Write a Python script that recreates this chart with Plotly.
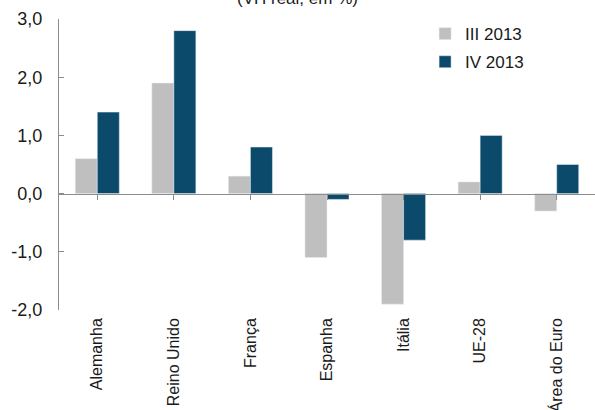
import plotly.graph_objects as go

# Crescimento do PIB (VH real, em %)
paises = ["Alemanha", "Reino Unido", "França", "Espanha", "Itália", "UE-28", "Área do Euro"]
iii_2013 = [0.6, 1.9, 0.3, -1.1, -1.9, 0.2, -0.3]
iv_2013 = [1.4, 2.8, 0.8, -0.1, -0.8, 1.0, 0.5]
y_ticks = [-2, -1, 0, 1, 2, 3]

FONTE = "Arial, Liberation Sans, sans-serif"
CINZA = "#bfbfbf"
AZUL = "#0c4a6b"
EIXO = "#8c8c8c"

pos = list(range(len(paises)))
# rótulos com vírgula e hífen simples, como no original
y_textos = [f"{v:.1f}".replace(".", ",") for v in y_ticks]

fig = go.Figure()
fig.add_trace(go.Bar(x=pos, y=iii_2013, name="III 2013", marker_color=CINZA,
                     legendgroup="a"))
fig.add_trace(go.Bar(x=pos, y=iv_2013, name="IV 2013", marker_color=AZUL,
                     legendgroup="b"))
# traço invisível só para o eixo dos rótulos aparecer
fig.add_trace(go.Scatter(x=pos, y=[0] * len(pos), xaxis="x2", mode="markers",
                         marker=dict(opacity=0), showlegend=False, hoverinfo="skip"))

# título cortado no topo, como na imagem original
fig.add_annotation(text="(VH real, em %)", xref="paper", yref="paper",
                   x=0.445, y=1.069, xanchor="center", yanchor="middle",
                   showarrow=False, font=dict(size=17, color="#1a1a1a"))

fig.update_layout(
    width=595, height=410,
    margin=dict(l=59, r=0, t=19, b=100),
    paper_bgcolor="white", plot_bgcolor="white",
    font=dict(family=FONTE, size=17, color="#1a1a1a"),
    barmode="group", bargap=0.425, bargroupgap=0,
    legend=dict(x=0.683, y=1.01, xanchor="left", yanchor="top",
                bgcolor="rgba(0,0,0,0)", font=dict(size=17),
                tracegroupgap=3),
    # eixo das categorias desenhado sobre o zero
    xaxis=dict(range=[-0.5, len(paises) - 0.5], anchor="free", position=0.4,
               showline=True, linecolor=EIXO, linewidth=1,
               tickmode="array", tickvals=pos, ticktext=paises,
               tickson="boundaries", ticks="outside", ticklen=5, tickcolor=EIXO,
               showticklabels=False, showgrid=False, zeroline=False,
               automargin=False),
    # só os rótulos, no fundo do gráfico
    xaxis2=dict(range=[-0.5, len(paises) - 0.5], overlaying="x", anchor="y",
                side="bottom", showline=False, ticks="",
                tickmode="array", tickvals=pos, ticktext=paises,
                tickangle=-90, tickfont=dict(size=16), ticklabelstandoff=4,
                showgrid=False, zeroline=False, automargin=False),
    yaxis=dict(range=[-2, 3], tickmode="array", tickvals=y_ticks, ticktext=y_textos,
               showline=True, linecolor=EIXO, linewidth=1,
               ticks="inside", ticklen=5, tickcolor=EIXO,
               tickfont=dict(size=18), ticklabelstandoff=12,
               showgrid=False, zeroline=False, automargin=False),
)

# sem a margem padrão do <body>, o gráfico fica encostado no canto
fig.write_html("out.html", config={"displayModeBar": False},
               post_script="document.body.style.margin = '0';")
